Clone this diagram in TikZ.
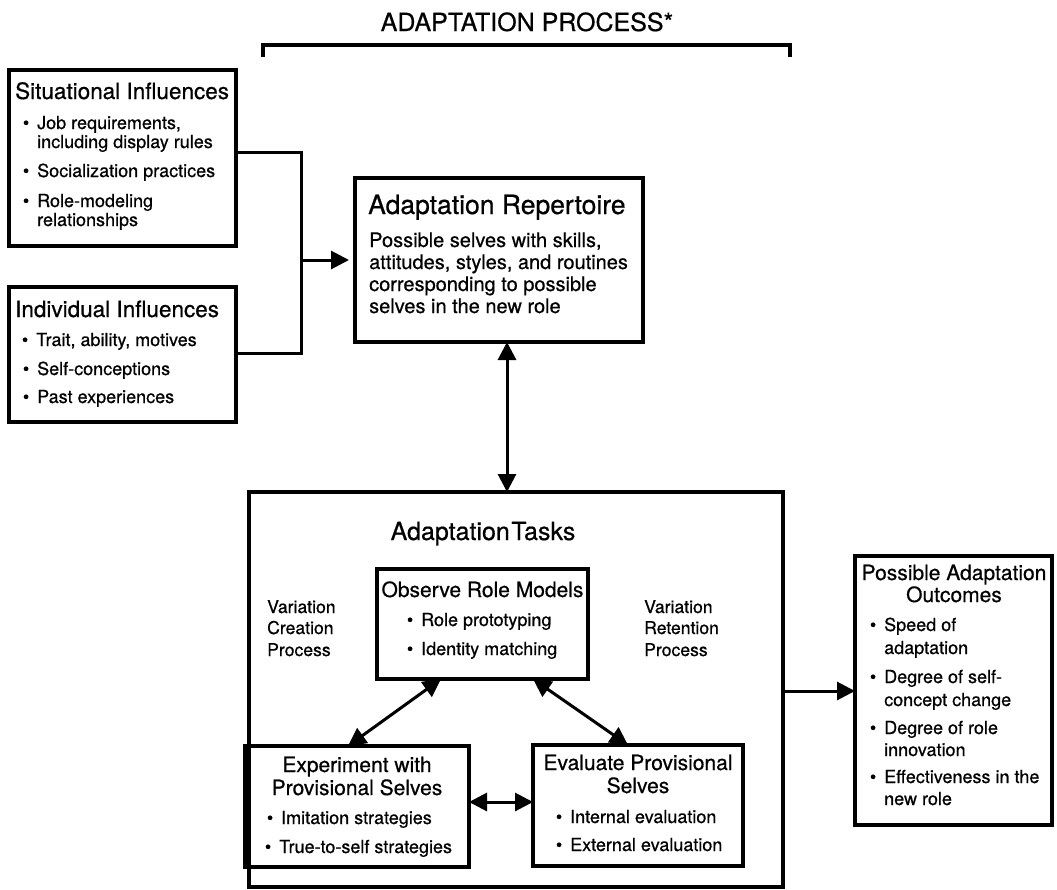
\documentclass[tikz,border=0pt]{standalone}
\usepackage{fontspec}
\setmainfont{TeX Gyre Heros}[FakeBold=0.6]
\usetikzlibrary{arrows.meta}
\newcommand\bul{\llap{\textbullet\hspace{8pt}}}
\tikzset{
  box/.style={draw, line width=3.4pt, inner sep=0pt, outer sep=0pt, rectangle},
  conn/.style={line width=3pt},
  arr/.style={conn, -{Triangle[length=18pt,width=18pt]}},
  darr/.style={conn, {Triangle[length=18pt,width=18pt]}-{Triangle[length=18pt,width=18pt]}},
  tl/.style={anchor=base west, inner sep=0pt},
  tc/.style={anchor=base, inner sep=0pt},
  fbig/.style={font=\fontsize{25}{28}\selectfont},
  fhead/.style={font=\fontsize{22.5}{25}\selectfont},
  frep/.style={font=\fontsize{26.5}{29}\selectfont},
  frepb/.style={font=\fontsize{20}{22}\selectfont},
  fsub/.style={font=\fontsize{21}{23}\selectfont},
  fbody/.style={font=\fontsize{18}{20}\selectfont},
  fvar/.style={font=\fontsize{17.6}{20}\selectfont},
}
\begin{document}
\begin{tikzpicture}[x=1pt,y=-1pt]
\useasboundingbox (0,0) rectangle (1057,889);

% title and bracket
\node[tc,fbig] (ttl) at (527,31) {ADAPTATION PROCESS*};
\coordinate (bl) at (263,57);
\coordinate (br) at (790,57);
\draw[line width=3.8pt] (bl) -- ++(0,-12) -| (br);

% boxes
\node[box, minimum width=227pt, minimum height=176pt] (sit) at (122.5,158) {};
\node[box, minimum width=227pt, minimum height=135pt] (ind) at (122.5,354.5) {};
\node[box, minimum width=288pt, minimum height=164pt] (rep) at (499,260) {};
\node[box, minimum width=534pt, minimum height=395pt] (tasks) at (516,689.5) {};
\node[box, minimum width=211pt, minimum height=110pt] (obs) at (482.5,624) {};
\node[box, minimum width=224pt, minimum height=121pt] (exp) at (357,806.5) {};
\node[box, minimum width=210pt, minimum height=121pt] (eval) at (638,805.5) {};
\node[box, minimum width=197pt, minimum height=269pt] (out) at (953.5,690.5) {};

% Situational
\node[tl,fhead] (sitT) at (15,99) {Situational Influences};
\node[tl,fbody] (sit1) at (37,129) {\bul Job requirements,};
\node[tl,fbody] (sit1b) at (37,148) {including display rules};
\node[tl,fbody] (sit2) at (37,177) {\bul Socialization practices};
\node[tl,fbody] (sit3) at (37,207) {\bul Role-modeling};
\node[tl,fbody] (sit3b) at (37,226) {relationships};

% Individual
\node[tl,fhead] (indT) at (15,317) {Individual Influences};
\node[tl,fbody] (ind1) at (36,346) {\bul Trait, ability, motives};
\node[tl,fbody] (ind2) at (37,375) {\bul Self-conceptions};
\node[tl,fbody] (ind3) at (37,403) {\bul Past experiences};

% Repertoire
\node[tl,frep] (repT) at (368,214) {Adaptation Repertoire};
\node[tl,frepb] (rep1) at (369,247) {Possible selves with skills,};
\node[tl,frepb] (rep2) at (369,269) {attitudes, styles, and routines};
\node[tl,frepb] (rep3) at (369,291) {corresponding to possible};
\node[tl,frepb] (rep4) at (369,313) {selves in the new role};

% Tasks
\node[tc,fbig] (tasksT) at (483,540) {Adaptation\hspace{1.5pt}Tasks};
\node[tc,fsub] (obsT) at (482.5,597) {Observe Role Models};
\node[tl,fbody] (obs1) at (421,626) {\bul Role prototyping};
\node[tl,fbody] (obs2) at (421,655) {\bul Identity matching};

\node[tl,fvar] (vc1) at (267,613) {Variation};
\node[tl,fvar] (vc2) at (267,634) {Creation};
\node[tl,fvar] (vc3) at (267,656) {Process};
\node[tl,fvar] (vr1) at (644,613) {Variation};
\node[tl,fvar] (vr2) at (644,634) {Retention};
\node[tl,fvar] (vr3) at (644,656) {Process};

\node[tc,fsub] (expT1) at (357,772) {Experiment with};
\node[tc,fsub] (expT2) at (357,795) {Provisional Selves};
\node[tl,fbody] (exp1) at (281,824) {\bul Imitation strategies};
\node[tl,fbody] (exp2) at (279,853) {\bul True-to-self strategies};

\node[tc,fsub] (evT1) at (638,770) {Evaluate Provisional};
\node[tc,fsub] (evT2) at (638,793) {Selves};
\node[tl,fbody] (ev1) at (570,823) {\bul Internal evaluation};
\node[tl,fbody] (ev2) at (570,851) {\bul External evaluation};

% Outcomes
\node[tc,fsub] (outT1) at (954,580) {Possible Adaptation};
\node[tc,fsub] (outT2) at (954,602) {Outcomes};
\node[tl,fbody] (o1) at (884,631) {\bul Speed of};
\node[tl,fbody] (o1b) at (884,654) {adaptation};
\node[tl,fbody] (o2) at (884,683) {\bul Degree of self-};
\node[tl,fbody] (o2b) at (884,706) {concept change};
\node[tl,fbody] (o3) at (884,734) {\bul Degree of role};
\node[tl,fbody] (o3b) at (884,756) {innovation};
\node[tl,fbody] (o4) at (884,783) {\bul Effectiveness in the};
\node[tl,fbody] (o4b) at (884,805) {new role};

% connectors
\coordinate (join) at (301,260);
\draw[conn] (sit.east |- 0,152) -| (join) |- (ind.east |- 0,353);
\draw[arr, shorten >=6pt] (join) -- (rep.west |- join);
\draw[darr] (rep.south -| 507,0) -- (tasks.north -| 507,0);
\draw[darr] (obs.south -| 441,0) -- (exp.north -| 348,0);
\draw[darr] (obs.south -| 533,0) -- (eval.north -| 628,0);
\draw[darr] (exp.east |- 0,802) -- (eval.west |- 0,802);
\draw[arr] (tasks.east |- 0,691) -- (out.west |- 0,691);
\end{tikzpicture}
\end{document}
